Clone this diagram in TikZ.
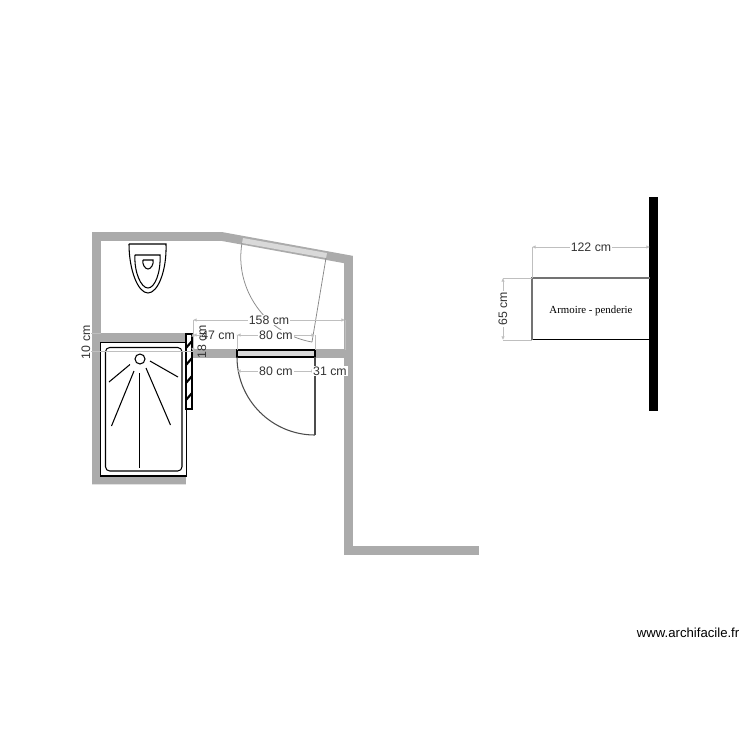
\documentclass[tikz,border=0pt]{standalone}
\usepackage{fontspec}
\setmainfont{Liberation Sans}
\newfontfamily\planserif{Liberation Serif}
\usepackage{tikz}
\usetikzlibrary{arrows.meta}
\definecolor{wallgrey}{rgb}{0.67,0.67,0.67}
\definecolor{dimgrey}{rgb}{0.75,0.75,0.75}
\definecolor{doorgrey}{rgb}{0.85,0.85,0.85}
\begin{document}
\begin{tikzpicture}[x=0.01cm,y=-0.01cm,
  wall/.style={wallgrey,line width=2.5pt,miter limit=10},
  fixture/.style={black,line width=0.3pt},
  dimline/.style={dimgrey,line width=0.2pt,{Latex[length=1pt,width=1pt]}-{Latex[length=1pt,width=1pt]}},
  dimext/.style={dimgrey,line width=0.2pt},
  dimtext/.style={font=\fontsize{3.5}{4}\selectfont,text=black!80,fill=white,inner sep=0.3pt}]
\useasboundingbox (0,0) rectangle (750,750);
% walls
\draw [wall] (186,480) -- (96.5,480) -- (96.5,236.5) -- (222,236.5) -- (348.5,259.5) -- (348.5,550.5) -- (479,550.5);
\draw [wall] (96.5,337.5) -- (186,337.5);
\draw [wall] (190,353.5) -- (345,353.5);
\fill (649,197) rectangle (658,411);
% wc
\draw [fixture] (129,244) -- (166,244) .. controls (167,270) and (158,293) .. (148,293) .. controls (138,293) and (129,270) .. (129,244);
\draw [fixture] (135,255) -- (160,255) .. controls (161,272) and (155,288) .. (148,288) .. controls (141,288) and (134,272) .. (135,255);
\draw [fixture] (143,260) -- (153,260) .. controls (154,264) and (151,269) .. (148,269) .. controls (145,269) and (142,264) .. (143,260);
% shower
\draw [fixture,fill=white] (100.5,342.5) rectangle (186.5,476);
\draw [fixture,rounded corners=1.2pt] (105.5,347.5) rectangle (182,471);
\draw [fixture] (140,359) circle [radius=5];
\draw [fixture] (139.5,373) -- (139.5,468);
\draw [fixture] (134,371) -- (111.5,426);
\draw [fixture] (146,368) -- (170.5,425);
\draw [fixture] (130,364.5) -- (109,382);
\draw [fixture] (150,361) -- (178,377);
% radiator
\draw [black,line width=0.4pt,fill=white] (186,334) rectangle (192,409);
\foreach \ystart in {348,365,383,400}
  \draw [black,line width=0.6pt] (186,\ystart) -- (192,\ystart-7);
% doors
\draw [black,line width=0.45pt,fill=doorgrey] (237,350) rectangle (315,357);
\draw [black!70,line width=0.3pt] (237,357) .. controls (237,400) and (272,435) .. (315,435);
\draw [black!70,line width=0.35pt] (315,357) -- (315,435);
\fill [doorgrey] (243,238) -- (327,253) -- (326,258) -- (242,243) -- cycle;
\draw [black!45,line width=0.22pt] (242,243) .. controls (234,289) and (266,334) .. (312,342);
\draw [black!45,line width=0.22pt] (326,258) -- (312,342);
% wardrobe
\draw [black,line width=0.25pt] (532,339) -- (650,339);
\draw [black!55,line width=0.55pt] (532,339.5) -- (532,278) -- (650,278);
\node (armoire) at (591,311) {\planserif\fontsize{3.08}{4}\selectfont Armoire - penderie};
% dimensions
\draw [dimext] (193,320) -- (193,351);
\draw [dimext] (345,320) -- (345,350);
\draw [dimext] (237,335) -- (237,350);
\draw [dimext] (315,335) -- (315,350);
\draw [dimext] (86,333) -- (101,333);
\draw [dimext] (86,351.5) -- (193,351.5);
\draw [dimext] (532,247) -- (532,278);
\draw [dimext] (503,278) -- (532,278);
\draw [dimext] (503,340) -- (532,340);
\draw [dimline] (193,320) -- node[dimtext] (dimtotal) {158 cm} (345,320);
\draw [dimline] (193,335) -- node[dimtext,pos=0.57] (dimleft) {47 cm} (237,335);
\draw [dimline] (237,335) -- node[dimtext] (dimdoor) {80 cm} (315,335);
\draw [dimline] (237,371) -- node[dimtext] (dimopen) {80 cm} (315,371);
\draw [dimline] (315,371) -- node[dimtext] (dimright) {31 cm} (345,371);
\draw [dimline] (86,333) -- node[dimtext,rotate=90] (dimwall) {10 cm} (86,351.5);
\draw [dimline] (193,333) -- (193,351.5);
\node [dimtext,fill=none,rotate=90] (dimshort) at (202,342) {18 cm};
\draw [dimline] (532,247) -- node[dimtext] (dimwidth) {122 cm} (650,247);
\draw [dimline] (503,278) -- node[dimtext,rotate=90] (dimdepth) {65 cm} (503,340);
\node [anchor=east,inner sep=0pt,font=\fontsize{3.74}{4.5}\selectfont] (site) at (740,633) {www.archifacile.fr};
\end{tikzpicture}
\end{document}
